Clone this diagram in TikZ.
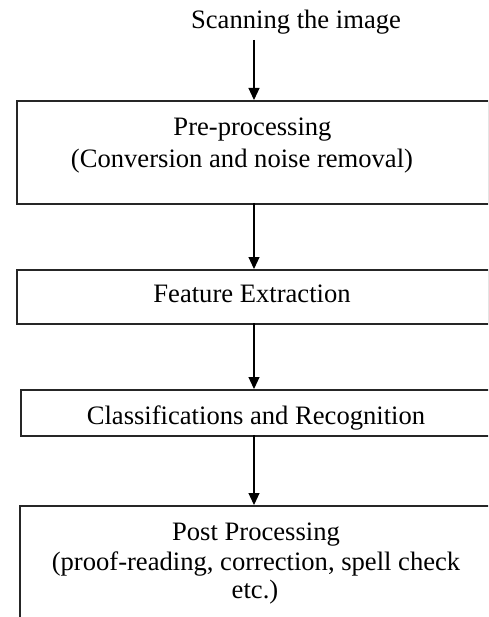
\documentclass[tikz,border=0pt]{standalone}
\usepackage{fontspec}
\setmainfont{Liberation Serif}
\usetikzlibrary{arrows.meta}
\begin{document}
\begin{tikzpicture}[x=1pt,y=-1pt,
  box/.style={draw=black!85, line width=1.6pt, rectangle, inner sep=0pt, anchor=north west},
  txt/.style={anchor=base, inner sep=0pt, font=\fontsize{26.6}{30}\selectfont, text=black},
  flow/.style={draw=black, line width=1.2pt, -{Triangle[width=11pt,length=12pt]}}]
\useasboundingbox (0,0) rectangle (488,617);
\clip (0,0) rectangle (488,617);
\fill[white] (0,0) rectangle (488,617);
% boxes
\node[box, minimum width=471.5pt, minimum height=103pt] (b1) at (16,100) {};
\node[box, minimum width=471.5pt, minimum height=54pt] (b2) at (16,269) {};
\node[box, minimum width=490pt, minimum height=46pt] (b3) at (20,389) {};
\node[box, minimum width=490pt, minimum height=140pt] (b4) at (19,505) {};
% texts
\node[txt] (scan) at (296,29) {Scanning the image};
\node[txt] (pre1) at (252.5,136) {Pre-processing};
\node[txt] (pre2) at (242,168) {(Conversion and noise removal)};
\node[txt] (feat) at (252,302) {Feature Extraction};
\node[txt] (cls) at (256,424) {Classifications and Recognition};
\node[txt] (post1) at (256,540) {Post Processing};
\node[txt] (post2) at (256,570) {(proof-reading, correction, spell check};
\node[txt] (post3) at (255,598) {etc.)};
% connectors
\coordinate (a0) at (254,40);
\coordinate (a1) at (254,203);
\coordinate (a2) at (254,323);
\coordinate (a3) at (254,435);
\draw[flow] (a0) -- (a0 |- b1.north);
\draw[flow] (a1) -- (a1 |- b2.north);
\draw[flow] (a2) -- (a2 |- b3.north);
\draw[flow] (a3) -- (a3 |- b4.north);
\end{tikzpicture}
\end{document}
